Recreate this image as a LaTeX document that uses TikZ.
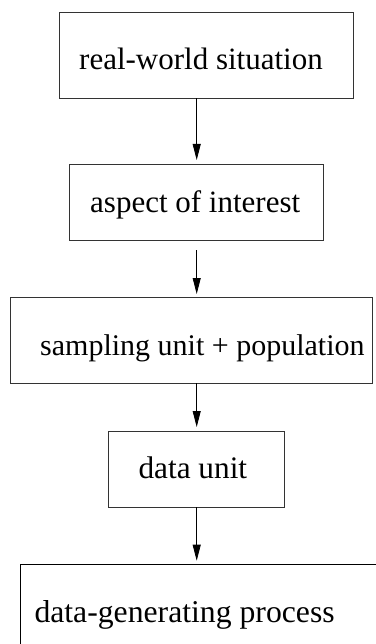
\documentclass[tikz,border=0pt]{standalone}
\usepackage{fontspec}
\setmainfont{Liberation Serif}
\usetikzlibrary{arrows.meta}
\begin{document}
\begin{tikzpicture}[x=1pt,y=-1pt,
  boxnode/.style={draw=black!80, line width=0.8pt, inner sep=0pt, outer sep=0pt, minimum width=#1},
  lbl/.style={anchor=base west, inner sep=0pt, font=\fontsize{31}{36}\selectfont},
  arr/.style={draw=black, line width=0.8pt, -{Triangle[length=16pt,width=8pt]}}]
\useasboundingbox (0,0) rectangle (375,644);
% boxes
\node[boxnode=293.7pt, minimum height=85.6pt] (b1) at (206.15,55.5) {};
\node[boxnode=254pt, minimum height=76.4pt] (b2) at (196.3,202.5) {};
\node[boxnode=362pt, minimum height=85.6pt] (b3) at (191.7,340.5) {};
\node[boxnode=176pt, minimum height=76.3pt] (b4) at (196.3,469.15) {};
\node[boxnode=380pt, minimum height=120pt, draw=black] (b5) at (210.7,624) {};
% labels
\node[lbl] (t1) at (79,70) {real-world situation};
\node[lbl] (t2) at (90,212) {aspect of interest};
\node[lbl, font=\fontsize{30}{36}\selectfont] (t3) at (40,355) {sampling unit + population};
\node[lbl, font=\fontsize{31.3}{36}\selectfont] (t4) at (138.3,478.3) {data unit};
\node[lbl, font=\fontsize{31.7}{36}\selectfont] (t5) at (34.3,622.3) {data-generating process};
% arrow axis
\coordinate (ax) at (196.7,0);
\coordinate (s2) at (196.7,250);
\draw[arr] (ax |- b1.south) -- ([yshift=4.3pt]ax |- b2.north);
\draw[arr] (s2) -- ([yshift=3.7pt]ax |- b3.north);
\draw[arr] (ax |- b3.south) -- ([yshift=4pt]ax |- b4.north);
\draw[arr] (ax |- b4.south) -- ([yshift=3.3pt]ax |- b5.north);
\end{tikzpicture}
\end{document}
